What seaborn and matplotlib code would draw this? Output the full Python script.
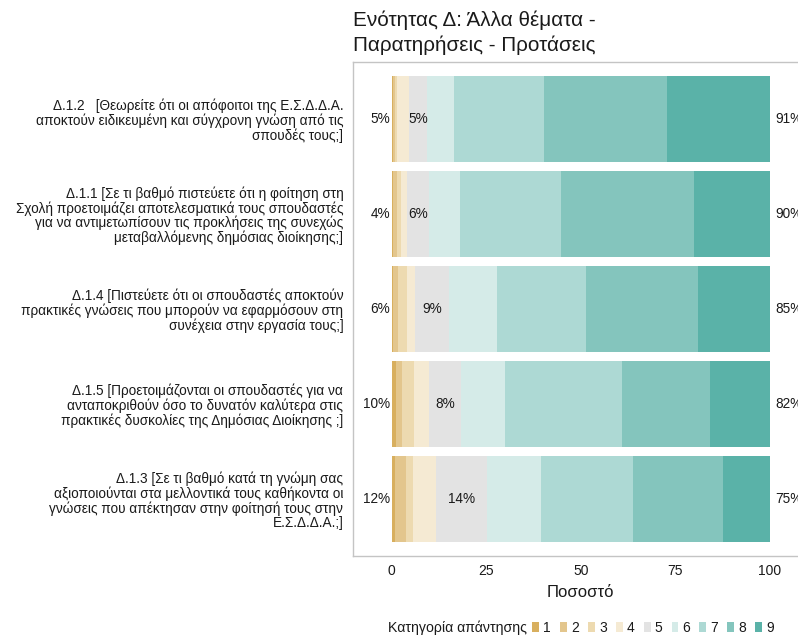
import numpy as np
import pandas as pd
import matplotlib
matplotlib.use("Agg")
import matplotlib.pyplot as plt
import seaborn as sns
from matplotlib.patches import Patch
from matplotlib.offsetbox import HPacker
from matplotlib.ticker import MultipleLocator

# ---------------- data ----------------
questions = [
    "Δ.1.2   [Θεωρείτε ότι οι απόφοιτοι της Ε.Σ.Δ.Δ.Α.\nαποκτούν ειδικευμένη και σύγχρονη γνώση από τις\nσπουδές τους;]",
    "Δ.1.1 [Σε τι βαθμό πιστεύετε ότι η φοίτηση στη\nΣχολή προετοιμάζει αποτελεσματικά τους σπουδαστές\nγια να αντιμετωπίσουν τις προκλήσεις της συνεχώς\nμεταβαλλόμενης δημόσιας διοίκησης;]",
    "Δ.1.4 [Πιστεύετε ότι οι σπουδαστές αποκτούν\nπρακτικές γνώσεις που μπορούν να εφαρμόσουν στη\nσυνέχεια στην εργασία τους;]",
    "Δ.1.5 [Προετοιμάζονται οι σπουδαστές για να\nανταποκριθούν όσο το δυνατόν καλύτερα στις\nπρακτικές δυσκολίες της Δημόσιας Διοίκησης ;]",
    "Δ.1.3 [Σε τι βαθμό κατά τη γνώμη σας\nαξιοποιούνται στα μελλοντικά τους καθήκοντα οι\nγνώσεις που απέκτησαν στην φοίτησή τους στην\nΕ.Σ.Δ.Δ.Α.;]",
]
level_labels = ["1", "2", "3", "4", "5", "6", "7", "8", "9"]
lvl1 = [0.4, 0.35, 0.5, 1.2, 0.9]
lvl2 = [0.5, 0.95, 1.3, 1.6, 2.8]
lvl3 = [0.5, 1.3, 2.4, 3.0, 2.0]
lvl4 = [3.2, 1.6, 2.1, 4.1, 6.0]
lvl5 = [4.7, 5.7, 8.8, 8.4, 13.6]
lvl6 = [7.2, 8.3, 12.7, 11.6, 14.2]
lvl7 = [23.7, 26.6, 23.6, 31.0, 24.2]
lvl8 = [32.5, 35.1, 29.5, 23.2, 24.0]
lvl9 = [27.3, 20.1, 19.1, 15.9, 12.3]
levels = [lvl1, lvl2, lvl3, lvl4, lvl5, lvl6, lvl7, lvl8, lvl9]
colors = ["#D8AF5E", "#E3C68D", "#EDDAB0", "#F5EAD3", "#E3E3E3",
          "#D5EBE8", "#ADD9D4", "#84C5BD", "#5AB2A8"]

title = "Ενότητας Δ: Άλλα θέματα -\nΠαρατηρήσεις - Προτάσεις"
xlabel = "Ποσοστό"
legend_title = "Κατηγορία απάντησης"

# ---------------- styling ----------------
sns.set_theme(style="white")
plt.rcParams["font.family"] = ["Liberation Sans", "DejaVu Sans"]
txt_col = "#1A1A1A"

W, H = 798, 637
fig = plt.figure(figsize=(W / 100, H / 100), dpi=100)
left_px, right_px, top_px, bot_px = 353, 808.6, 62, 556
ax = fig.add_axes([left_px / W, 1 - bot_px / H, (right_px - left_px) / W, (bot_px - top_px) / H])

df = pd.DataFrame({"q": questions})
arr = np.array(levels)
cum = np.cumsum(arr, axis=0)
for k in range(8, -1, -1):
    df["cum"] = cum[k]
    sns.barplot(data=df, x="cum", y="q", order=questions, orient="h",
                color=colors[k], saturation=1, width=0.9, linewidth=0,
                errorbar=None, ax=ax)

ax.set_xlim(-10.2, 110.2)
ax.set_ylim(4.6, -0.6)

low = arr[:4].sum(axis=0)
neu = arr[4]
high = arr[5:].sum(axis=0)
fs_bar = 9.8
for i in range(len(questions)):
    ax.text(-0.4, i, f"{low[i]:.0f}%", ha="right", va="center", fontsize=fs_bar, color=txt_col)
    ax.text(low[i] + neu[i] / 2, i, f"{neu[i]:.0f}%", ha="center", va="center", fontsize=fs_bar, color=txt_col)
    ax.text(101.3, i, f"{high[i]:.0f}%", ha="left", va="center", fontsize=fs_bar, color=txt_col, clip_on=False)

# axes / ticks
ax.xaxis.set_minor_locator(MultipleLocator(12.5))
ax.set_xticks([0, 25, 50, 75, 100])
ax.set_xticklabels(["0", "25", "50", "75", "100"])
for s in ax.spines.values():
    s.set_visible(True)
    s.set_color("#C4C4C4")
    s.set_linewidth(1.0)
ax.tick_params(axis="x", which="both", direction="in", length=3, width=1.6, color="white",
               top=True, bottom=True, pad=6, labelsize=10, labelcolor=txt_col)
ax.tick_params(axis="y", which="both", direction="in", length=3, width=1.6, color="white",
               left=True, right=False, pad=7, labelsize=9.8, labelcolor=txt_col)
for t in ax.get_yticklabels():
    t.set_linespacing(1.03)
    t.set_ha("right")
ax.set_ylabel("")
ax.set_xlabel(xlabel, fontsize=12, color=txt_col, labelpad=4.5)

fig.text(left_px / W, 1 - 11 / H, title, ha="left", va="top", fontsize=14.9,
         color=txt_col, linespacing=1.35)

# legend (title to the left of keys)
handles = [Patch(facecolor=c, edgecolor="none") for c in colors]
leg = ax.legend(handles, level_labels, title=legend_title, ncol=9, frameon=False,
                loc="center", bbox_to_anchor=(((left_px + right_px) / 2) / W, 1 - 628 / H),
                bbox_transform=fig.transFigure, fontsize=10, title_fontsize=10.2,
                handlelength=0.5, handleheight=0.8, handletextpad=0.3, columnspacing=0.65,
                borderpad=0, borderaxespad=0)
try:
    newbox = HPacker(pad=0, sep=4, align="center",
                     children=[leg._legend_title_box, leg._legend_handle_box])
    newbox.set_figure(fig)
    newbox.axes = ax
    leg._legend_box = newbox
    leg._legend_box.set_offset(leg._findoffset)
except Exception:
    pass
for t in leg.get_texts():
    t.set_color(txt_col)
leg.get_title().set_color(txt_col)

fig.savefig("out.png", dpi=100)
